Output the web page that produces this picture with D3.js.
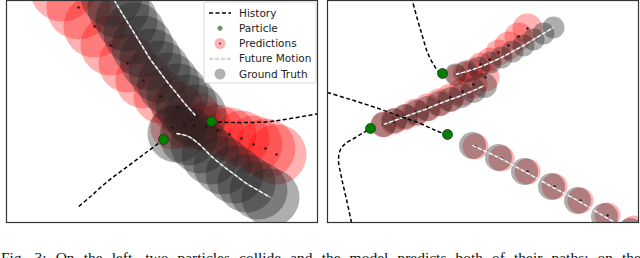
<!DOCTYPE html>
<html>
<head>
<meta charset="utf-8">
<script src="https://cdn.jsdelivr.net/npm/d3@7/dist/d3.min.js"></script>
<style>
  body { margin: 0; background: #fff; }
  svg { display: block; }
</style>
</head>
<body>
<div id="chart"></div>
<script>
// values, panel-local units, [x, y] or [x, y, r]
const leftParticles = [[205, 121], [157, 139]]
const leftHistA = [[205, 121], [224, 122], [244, 122], [264, 121], [284, 118], [313, 113]]
const leftHistB = [[157, 139], [141, 151], [121, 166], [101, 181], [84, 196], [71, 207]]
const leftPredA = [[190, 115, 24], [171, 107, 26], [154, 96, 27], [137, 80, 28], [121, 63, 29],
  [104, 45, 30], [88, 26, 31], [72, 7, 32], [56, -12, 33]]
const leftPredB = [[166, 127, 22], [178, 125, 23], [188, 125, 24], [200, 126, 25], [211, 130, 26],
  [223, 134, 27], [235, 138, 28], [247, 144, 29], [259, 148, 30], [270, 154, 30]]
const leftTruthA = [[189, 115, 31], [180, 105, 31], [171, 94, 31], [162, 83, 31], [153, 71, 31],
  [144, 59, 31], [136, 46, 31], [128, 33, 31], [120, 20, 31], [112, 7, 31], [105, -5, 31]]
const leftTruthB = [[170, 133, 29], [182, 136, 29], [193, 144, 29], [204, 155, 29], [216, 165, 29],
  [228, 174, 29], [240, 183, 29], [252, 190, 29], [264, 197, 29]]

const rightParticles = [[115, 73], [43, 128], [120, 134]]
const rightHist1 = [[84, -3], [90, 19], [95, 36], [100, 52], [106, 64], [111, 71], [115, 73]]
const rightHist2 = [[24, 222], [19, 199], [14, 177], [11, 159], [13, 149], [18, 143], [28, 137], [36, 132], [43, 128]]
const rightHist3 = [[0, 92], [23, 99], [48, 107], [73, 116], [93, 123], [108, 130], [120, 134]]
const rightPred1 = [[128, 74, 10], [136, 72, 11], [145, 69, 11], [153, 64, 12], [162, 59, 12],
  [171, 52, 13], [181, 45, 14], [191, 36, 14], [200, 28, 15]]
const rightTruth1 = [[128, 74, 11], [139, 71, 11], [151, 67, 11], [163, 62, 11], [174, 57, 11],
  [185, 51, 11], [196, 45, 11], [206, 39, 11], [216, 33, 11], [226, 27, 11]]
const rightPred2 = [[56, 124, 13], [66, 121, 13], [77, 117, 13], [88, 112, 14], [100, 107, 14],
  [112, 102, 14], [123, 97, 14], [135, 91, 14], [146, 84, 14], [158, 77, 14]]
const rightTruth2 = [[56, 124, 12.5], [67, 120, 12.5], [78, 116, 12.5], [89, 112, 12.5], [100, 108, 12.5],
  [112, 103, 12.5], [123, 99, 12.5], [134, 95, 12.5], [146, 90, 12.5], [157, 85, 12.5]]
const rightPred3 = [[148, 146, 13], [174, 158, 13], [200, 171, 13], [227, 186, 13], [253, 200, 13],
  [280, 215, 13], [306, 228, 13]]
const rightTruth3 = [[145, 145, 13.5], [171, 157, 13.5], [197, 171, 13.5], [224, 186, 13.5],
  [250, 200, 13.5], [277, 216, 13.5], [303, 231, 13.5]]

const legendLabels = ['History', 'Particle', 'Predictions', 'Future Motion', 'Ground Truth']
const caption = 'Fig. 3: On the left, two particles collide and the model predicts both of their paths; on the'

const W = 640, H = 258
const svg = d3.select('#chart').append('svg').attr('width', W).attr('height', H)

const panels = [
  { id: 'l', x0: 6.5, y0: 0.5, w: 311, h: 222,
    hist: [leftHistA, leftHistB], preds: [leftPredA, leftPredB], truths: [leftTruthA, leftTruthB],
    particles: leftParticles, legend: true },
  { id: 'r', x0: 327.5, y0: 0.5, w: 311, h: 222,
    hist: [rightHist1, rightHist2, rightHist3], preds: [rightPred1, rightPred2, rightPred3],
    truths: [rightTruth1, rightTruth2, rightTruth3], particles: rightParticles, legend: false }
]

panels.forEach(p => {
  const x = d3.scaleLinear().domain([0, p.w]).range([p.x0, p.x0 + p.w])
  const y = d3.scaleLinear().domain([0, p.h]).range([p.y0, p.y0 + p.h])
  const line = d3.line().x(d => x(d[0])).y(d => y(d[1])).curve(d3.curveCatmullRom)

  svg.append('clipPath').attr('id', 'clip-' + p.id)
    .append('rect').attr('x', p.x0).attr('y', p.y0).attr('width', p.w).attr('height', p.h)
  const g = svg.append('g').attr('clip-path', 'url(#clip-' + p.id + ')')

  // predictions
  p.preds.forEach(s => {
    g.append('g').selectAll('circle').data(s).enter().append('circle')
      .attr('cx', d => x(d[0])).attr('cy', d => y(d[1]))
      .attr('r', d => x(d[2]) - x(0))
      .attr('fill', '#ff0000').attr('fill-opacity', 0.3)
  })
  // ground truth on top
  p.truths.forEach(t => {
    g.append('g').selectAll('circle').data(t).enter().append('circle')
      .attr('cx', d => x(d[0])).attr('cy', d => y(d[1]))
      .attr('r', d => x(d[2]) - x(0))
      .attr('fill', '#222').attr('fill-opacity', 0.37)
  })
  p.preds.forEach(s => {
    g.append('g').selectAll('circle').data(s).enter().append('circle')
      .attr('cx', d => x(d[0])).attr('cy', d => y(d[1]))
      .attr('r', 1.3).attr('fill', '#111').attr('fill-opacity', 0.85)
  })
  // future motion
  p.truths.forEach(t => {
    g.append('path').attr('d', line(t)).attr('fill', 'none')
      .attr('stroke', '#bbb').attr('stroke-width', 1.6).attr('stroke-opacity', 0.6)
    g.append('path').attr('d', line(t)).attr('fill', 'none')
      .attr('stroke', '#fff').attr('stroke-width', 1.3).attr('stroke-dasharray', '4,2')
  })
  // history
  p.hist.forEach(h => {
    g.append('path').attr('d', line(h)).attr('fill', 'none')
      .attr('stroke', '#000').attr('stroke-width', 1.5).attr('stroke-dasharray', '4,2.5')
  })
  g.selectAll('.particle').data(p.particles).enter().append('circle')
    .attr('class', 'particle')
    .attr('cx', d => x(d[0])).attr('cy', d => y(d[1]))
    .attr('r', 5).attr('fill', 'green').attr('stroke', '#222').attr('stroke-width', 0.7)

  svg.append('rect').attr('x', p.x0).attr('y', p.y0).attr('width', p.w).attr('height', p.h)
    .attr('fill', 'none').attr('stroke', '#333').attr('stroke-width', 1.2)

  if (p.legend) {
    const lg = svg.append('g').attr('transform', 'translate(204,2)')
    lg.append('rect').attr('width', 112).attr('height', 81).attr('rx', 2.5)
      .attr('fill', '#fff').attr('fill-opacity', 0.85).attr('stroke', '#ccc').attr('stroke-width', 0.8)
    const rowY = d3.scalePoint().domain(legendLabels).range([11, 72])
    const row = lg.selectAll('.row').data(legendLabels).enter().append('g')
      .attr('transform', d => 'translate(0,' + rowY(d) + ')')
    row.append('text').attr('x', 35).attr('dy', '0.35em')
      .style('font-family', 'DejaVu Sans, sans-serif').style('font-size', '10.5px')
      .attr('fill', '#222').text(d => d)
    row.each(function (d) {
      const r = d3.select(this)
      if (d === 'History') {
        r.append('line').attr('x1', 5).attr('x2', 27).attr('stroke', '#000')
          .attr('stroke-width', 1.5).attr('stroke-dasharray', '4,2.5')
      } else if (d === 'Particle') {
        r.append('circle').attr('cx', 16).attr('r', 2.3).attr('fill', 'green')
          .attr('fill-opacity', 0.7).attr('stroke', '#888').attr('stroke-width', 0.6)
      } else if (d === 'Predictions') {
        r.append('circle').attr('cx', 16).attr('r', 5.5).attr('fill', '#ff0000').attr('fill-opacity', 0.3)
        r.append('circle').attr('cx', 16).attr('r', 0.9).attr('fill', '#333')
      } else if (d === 'Future Motion') {
        r.append('line').attr('x1', 5).attr('x2', 27).attr('stroke', '#aaa').attr('stroke-width', 2)
          .attr('stroke-dasharray', '4,2')
        r.append('line').attr('x1', 5).attr('x2', 27).attr('stroke', '#fff').attr('stroke-width', 0.9)
          .attr('stroke-dasharray', '4,2')
      } else {
        r.append('circle').attr('cx', 16).attr('r', 5.5).attr('fill', '#222').attr('fill-opacity', 0.35)
      }
    })
  }
})

// caption, justified across the width (only its top shows, like the figure)
const cap = svg.append('text').attr('x', 1).attr('y', 262.5)
  .style('font-family', 'Liberation Serif, serif').style('font-size', '15.5px')
  .attr('fill', '#111').text(caption)
const gaps = caption.split(' ').length - 1
const extra = (640 - cap.node().getComputedTextLength()) / gaps
cap.style('word-spacing', extra + 'px')
</script>
</body>
</html>
